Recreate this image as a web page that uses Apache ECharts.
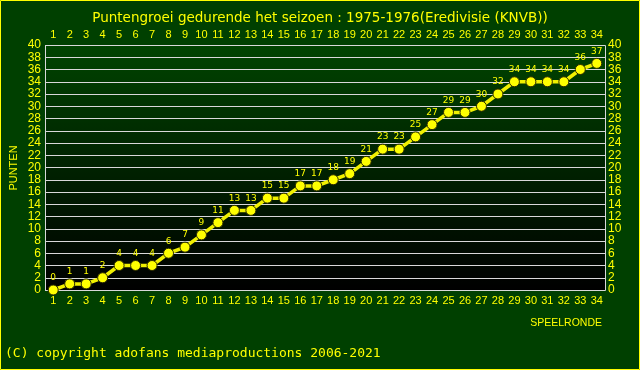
<!DOCTYPE html>
<html><head><meta charset="utf-8">
<script src="https://cdn.jsdelivr.net/npm/echarts@6/dist/echarts.min.js"></script>
<style>
html,body{margin:0;padding:0;background:#004000}
#c{width:640px;height:370px}
</style>
</head><body><div id="c"></div>
<script>
const rounds = ['1','2','3','4','5','6','7','8','9','10','11','12','13','14','15','16','17','18','19','20','21','22','23','24','25','26','27','28','29','30','31','32','33','34'];
const points = [0,1,1,2,4,4,4,6,7,9,11,13,13,15,15,17,17,18,19,21,23,23,25,27,29,29,30,32,34,34,34,34,36,37];
const titleText = 'Puntengroei gedurende het seizoen : 1975-1976(Eredivisie (KNVB))';
const yName = 'PUNTEN';
const xName = 'SPEELRONDE';
const copyright = '(C) copyright adofans mediaproductions 2006-2021';

const G = {left: 45, right: 35, top: 45, bottom: 80};
const chart = echarts.init(document.getElementById('c'), null, {renderer:'canvas'});
const yel = '#ffff00';
const xLab = {color: yel, fontFamily: 'Liberation Sans', fontSize: 11};
const yLab = {color: yel, fontFamily: 'Liberation Sans', fontSize: 12, showMinLabel: true, showMaxLabel: true, hideOverlap: false};
chart.setOption({
  backgroundColor: '#004000',
  animation: false,
  title: {text: titleText, left: 'center', top: 6, textStyle: {color: yel, fontFamily: 'DejaVu Sans', fontSize: 13.5, fontWeight: 'normal'}},
  grid: Object.assign({show: false}, G),
  graphic: [
    {type: 'rect', shape: {x: G.left, y: G.top, width: 640 - G.left - G.right, height: 370 - G.top - G.bottom},
     style: {fill: new echarts.graphic.LinearGradient(0, 0, 0, 1, [{offset: 0, color: '#004400'}, {offset: 1, color: '#000000'}])}},
    {type: 'rect', shape: {x: G.left + 0.5, y: G.top + 0.5, width: 640 - G.left - G.right, height: 370 - G.top - G.bottom},
     style: {fill: 'none', stroke: '#d8d8d8', lineWidth: 1}},
    {type: 'rect', shape: {x: 0.5, y: 0.5, width: 639, height: 369}, style: {fill: 'none', stroke: yel, lineWidth: 1}},
    {type: 'text', left: 5, top: 347, style: {text: copyright, fill: yel, font: '13px "DejaVu Sans Mono"'}},
    {type: 'text', right: 38, top: 318, style: {text: xName, fill: yel, font: '10.5px "Liberation Sans"'}},
    {type: 'text', x: 14, y: 168, rotation: Math.PI / 2, style: {text: yName, fill: yel, font: '11px "Liberation Sans"', textAlign: 'center', textVerticalAlign: 'middle'}}
  ],
  xAxis: [
    {type: 'category', data: rounds, position: 'bottom', boundaryGap: true,
     axisLine: {show: false}, axisTick: {show: false}, splitLine: {show: false},
     axisLabel: Object.assign({interval: 0, margin: 5}, xLab)},
    {type: 'category', data: rounds, position: 'top', boundaryGap: true,
     axisLine: {show: false}, axisTick: {show: false}, splitLine: {show: false},
     axisLabel: Object.assign({interval: 0, margin: 5}, xLab)}
  ],
  yAxis: [
    {type: 'value', min: 0, max: 40, interval: 2, position: 'left',
     axisLine: {show: false}, axisTick: {show: false},
     splitLine: {show: true, lineStyle: {color: '#d8d8d8', width: 1}},
     axisLabel: Object.assign({margin: 4}, yLab)},
    {type: 'value', min: 0, max: 40, interval: 2, position: 'right',
     axisLine: {show: false}, axisTick: {show: false}, splitLine: {show: false},
     axisLabel: Object.assign({margin: 3}, yLab)}
  ],
  series: [{
    type: 'line', data: points, xAxisIndex: 0, yAxisIndex: 0, z: 10,
    symbol: 'circle', symbolSize: 10,
    lineStyle: {color: '#f0f000', width: 3.5},
    itemStyle: {color: yel, borderColor: '#2a2a00', borderWidth: 1},
    label: {show: true, position: 'top', distance: 2, color: yel, fontFamily: 'DejaVu Sans', fontSize: 9}
  }]
});
</script></body></html>
